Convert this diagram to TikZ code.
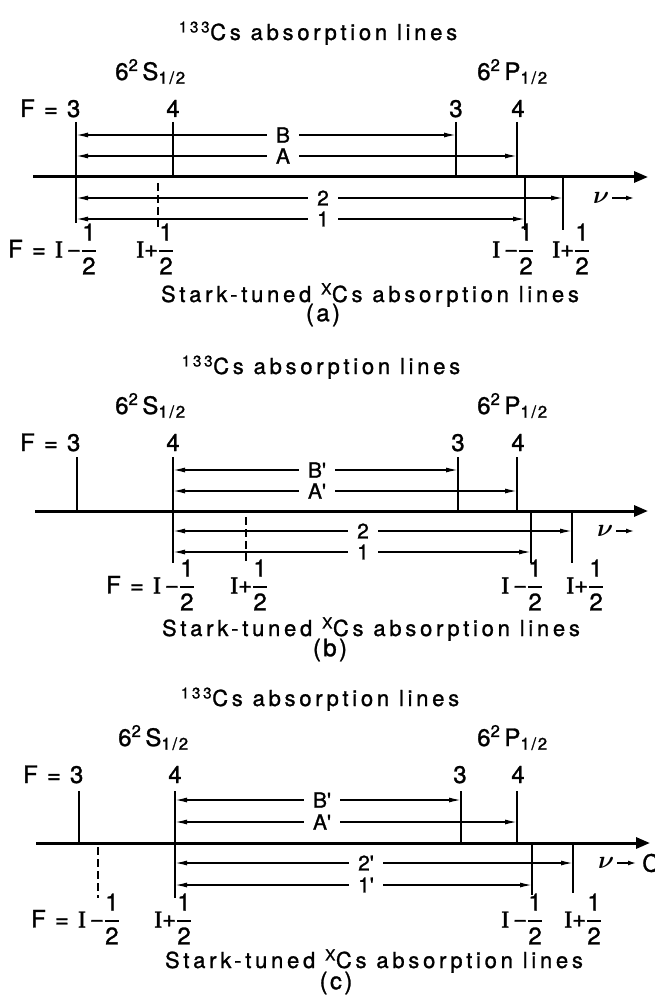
\documentclass[tikz,border=0pt]{standalone}
\usepackage{amsmath}
\usepackage{fontspec}
\usetikzlibrary{arrows.meta}
\newfontfamily\lab[LetterSpace=10,FakeBold=1.2]{TeX Gyre Heros}
\newfontfamily\labw[LetterSpace=17,FakeBold=1.2]{TeX Gyre Heros}
\newfontfamily\serI[FakeBold=1.5]{Liberation Serif}
\newcommand\hlf{\ensuremath{\genfrac{}{}{1.4pt}{0}{\text{1}}{\text{2}}}}
\newcommand\Imn{{\serI I}\,\raisebox{0.5pt}{−}\hlf}
\newcommand\Ipl{{\serI I}\raisebox{0.5pt}{+}\hlf}
\newcommand\tq{\textquotesingle}
\tikzset{
  lev/.style={line width=1.8pt},
  dashlev/.style={line width=1.8pt, dash pattern=on 8pt off 4pt},
  axisline/.style={line width=3pt, -{Triangle[length=14pt,width=11pt]}},
  dim/.style={line width=1.4pt, -{Latex[length=12pt,width=5pt]}},
  nuarr/.style={line width=1.4pt, -{Latex[length=8pt,width=5pt]}},
  txt/.style={font=\lab\fontsize{24}{28}\selectfont, inner sep=0pt},
  ttl/.style={font=\labw\fontsize{22}{26}\selectfont, inner sep=0pt},
  dimlbl/.style={font=\lab\fontsize{21}{24}\selectfont, inner xsep=9pt, inner ysep=0pt},
}
\begin{document}
\begin{tikzpicture}[x=1pt,y=-1pt]
\useasboundingbox (0,0) rectangle (654,995);
% ================= (a) =================
\begin{scope}[shift={(0,177)}]
  \coordinate (aX0) at (33,0); \coordinate (aX1) at (648,0);
  \coordinate (aL) at (76,0); \coordinate (a4) at (173,0);
  \coordinate (a3p) at (456,0); \coordinate (a4p) at (517,0);
  \coordinate (aIm) at (525,0); \coordinate (aIp) at (563,0);
  \draw[lev] (76,-55) -- (76,46);
  \draw[lev] (173,-55) -- (a4);
  \draw[lev] (456,-55) -- (a3p);
  \draw[lev] (517,-55) -- (a4p);
  \draw[lev] (aIm) -- (525,53);
  \draw[lev] (aIp) -- (563,53);
  \draw[dashlev] (158,6) -- (158,53);
  \draw[axisline] (aX0) -- (aX1);
  \node[dimlbl] (aB) at (283,-42) {B};
  \draw[dim] (aB) -- (aB -| aL); \draw[dim] (aB) -- (aB -| a3p);
  \node[dimlbl] (aA) at (283,-21) {A};
  \draw[dim] (aA) -- (aA -| aL); \draw[dim] (aA) -- (aA -| a4p);
  \node[dimlbl] (a2) at (323,21) {2};
  \draw[dim] (a2) -- (a2 -| aL); \draw[dim] (a2) -- (a2 -| aIp);
  \node[dimlbl] (a1) at (323,42) {1};
  \draw[dim] (a1) -- (a1 -| aL); \draw[dim] (a1) -- (a1 -| aIm);
  \node[ttl, anchor=base] (aT) at (318,-137) {\textsuperscript{133}Cs absorption lines};
  \node[txt, anchor=base west] (aS) at (115,-97) {6\textsuperscript{2}\,S\textsubscript{1/2}};
  \node[txt, anchor=base west] (aP) at (477,-97) {6\textsuperscript{2}\,P\textsubscript{1/2}};
  \node[txt, anchor=base west] (aF3) at (20,-60) {F = 3};
  \node[txt, anchor=base] (aF4) at (173,-60) {4};
  \node[txt, anchor=base] (aF3p) at (456,-60) {3};
  \node[txt, anchor=base] (aF4p) at (518,-60) {4};
  \node[txt, anchor=west] (aBL1) at (8,72) {F = \Imn};
  \node[txt, anchor=west] (aBL2) at (136,72) {\Ipl};
  \node[txt, anchor=west] (aBL3) at (492,72) {\Imn};
  \node[txt, anchor=west] (aBL4) at (552,72) {\Ipl};
  \node[txt, anchor=west, inner xsep=3pt] (anu) at (590,21) {$\boldsymbol{\nu}$};
  \coordinate (anuE) at (634,21);
  \draw[nuarr] (anu) -- (anuE);
  \node[ttl, anchor=base] (aSt) at (370,125) {Stark-tuned \textsuperscript{X}Cs absorption lines};
  \node[txt] (acap) at (323,138) {(a)};
\end{scope}
% ================= (b) =================
\begin{scope}[shift={(0,511)}]
  \coordinate (bX0) at (35,0); \coordinate (bX1) at (648,0);
  \coordinate (bF3) at (77,0); \coordinate (bL) at (173,0);
  \coordinate (b3p) at (458,0); \coordinate (b4p) at (517,0);
  \coordinate (bIm) at (531,0); \coordinate (bIp) at (572,0);
  \draw[lev] (77,-54) -- (bF3);
  \draw[lev] (173,-54) -- (173,52);
  \draw[lev] (458,-54) -- (b3p);
  \draw[lev] (517,-54) -- (b4p);
  \draw[lev] (bIm) -- (531,52);
  \draw[lev] (bIp) -- (572,52);
  \draw[dashlev] (246,6) -- (246,52);
  \draw[axisline] (bX0) -- (bX1);
  \node[dimlbl] (bB) at (317,-41) {B\tq};
  \draw[dim] (bB) -- (bB -| bL); \draw[dim] (bB) -- (bB -| b3p);
  \node[dimlbl] (bA) at (317,-20) {A\tq};
  \draw[dim] (bA) -- (bA -| bL); \draw[dim] (bA) -- (bA -| b4p);
  \node[dimlbl] (b2) at (363,20) {2};
  \draw[dim] (b2) -- (b2 -| bL); \draw[dim] (b2) -- (b2 -| bIp);
  \node[dimlbl] (b1) at (363,41) {1};
  \draw[dim] (b1) -- (b1 -| bL); \draw[dim] (b1) -- (b1 -| bIm);
  \node[ttl, anchor=base] (bT) at (321,-137) {\textsuperscript{133}Cs absorption lines};
  \node[txt, anchor=base west] (bS) at (115,-97) {6\textsuperscript{2}\,S\textsubscript{1/2}};
  \node[txt, anchor=base west] (bP) at (477,-97) {6\textsuperscript{2}\,P\textsubscript{1/2}};
  \node[txt, anchor=base west] (bF3l) at (20,-60) {F = 3};
  \node[txt, anchor=base] (bF4) at (173,-60) {4};
  \node[txt, anchor=base] (bF3p) at (458,-60) {3};
  \node[txt, anchor=base] (bF4p) at (518,-60) {4};
  \node[txt, anchor=west] (bBL1) at (106,74) {F = \Imn};
  \node[txt, anchor=west] (bBL2) at (230,74) {\Ipl};
  \node[txt, anchor=west] (bBL3) at (501,74) {\Imn};
  \node[txt, anchor=west] (bBL4) at (566,74) {\Ipl};
  \node[txt, anchor=west, inner xsep=3pt] (bnu) at (594,20) {$\boldsymbol{\nu}$};
  \coordinate (bnuE) at (634,20);
  \draw[nuarr] (bnu) -- (bnuE);
  \node[ttl, anchor=base] (bSt) at (371,125) {Stark-tuned \textsuperscript{X}Cs absorption lines};
  \node[txt] (bcap) at (330,139) {(b)};
\end{scope}
% ================= (c) =================
\begin{scope}[shift={(0,843)}]
  \coordinate (cX0) at (36,0); \coordinate (cX1) at (650,0);
  \coordinate (cF3) at (79,0); \coordinate (cL) at (175,0);
  \coordinate (c3p) at (461,0); \coordinate (c4p) at (517,0);
  \coordinate (cIm) at (532,0); \coordinate (cIp) at (573,0);
  \draw[lev] (79,-52) -- (cF3);
  \draw[lev] (175,-52) -- (175,55);
  \draw[lev] (461,-52) -- (c3p);
  \draw[lev] (517,-52) -- (c4p);
  \draw[lev] (cIm) -- (532,52);
  \draw[lev] (cIp) -- (573,50);
  \draw[dashlev] (98,4) -- (98,55);
  \draw[axisline] (cX0) -- (cX1);
  \node[dimlbl] (cB) at (322,-43) {B\tq};
  \draw[dim] (cB) -- (cB -| cL); \draw[dim] (cB) -- (cB -| c3p);
  \node[dimlbl] (cA) at (322,-21) {A\tq};
  \draw[dim] (cA) -- (cA -| cL); \draw[dim] (cA) -- (cA -| c4p);
  \node[dimlbl] (c2) at (366,20) {2\tq};
  \draw[dim] (c2) -- (c2 -| cL); \draw[dim] (c2) -- (c2 -| cIp);
  \node[dimlbl] (c1) at (366,42) {1\tq};
  \draw[dim] (c1) -- (c1 -| cL); \draw[dim] (c1) -- (c1 -| cIm);
  \node[ttl, anchor=base] (cT) at (320,-137) {\textsuperscript{133}Cs absorption lines};
  \node[txt, anchor=base west] (cS) at (118,-97) {6\textsuperscript{2}\,S\textsubscript{1/2}};
  \node[txt, anchor=base west] (cP) at (477,-97) {6\textsuperscript{2}\,P\textsubscript{1/2}};
  \node[txt, anchor=base west] (cF3l) at (23,-60) {F = 3};
  \node[txt, anchor=base] (cF4) at (175,-60) {4};
  \node[txt, anchor=base] (cF3p) at (460,-60) {3};
  \node[txt, anchor=base] (cF4p) at (518,-60) {4};
  \node[txt, anchor=west] (cBL1) at (31,76) {F = \Imn};
  \node[txt, anchor=west] (cBL2) at (154,76) {\Ipl};
  \node[txt, anchor=west] (cBL3) at (501,76) {\Imn};
  \node[txt, anchor=west] (cBL4) at (564,76) {\Ipl};
  \node[txt, anchor=west, inner xsep=3pt] (cnu) at (595,20) {$\boldsymbol{\nu}$};
  \coordinate (cnuE) at (636,20);
  \draw[nuarr] (cnu) -- (cnuE);
  \node[txt, anchor=west] (cC) at (642,20) {C};
  \node[ttl, anchor=base] (cSt) at (374,125) {Stark-tuned \textsuperscript{X}Cs absorption lines};
  \node[txt] (ccap) at (336,140) {(c)};
\end{scope}
\end{tikzpicture}
\end{document}
